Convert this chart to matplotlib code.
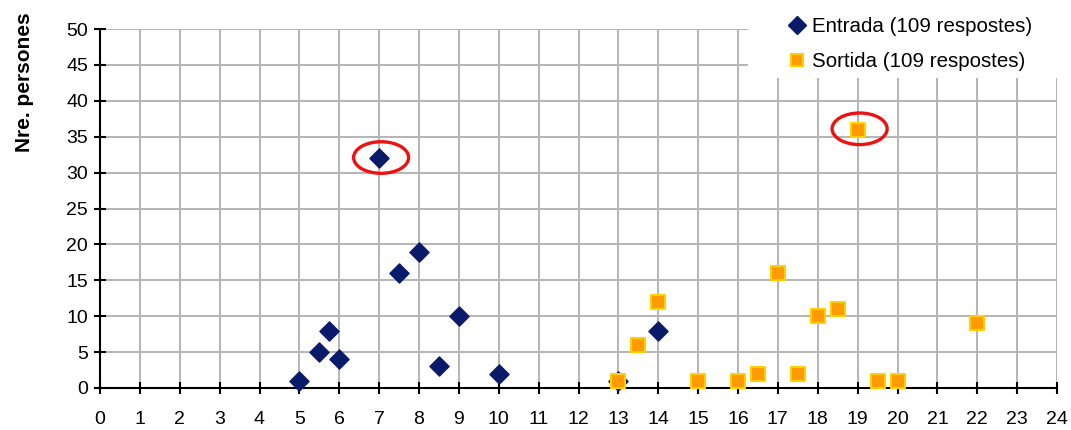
import matplotlib
matplotlib.use("Agg")
import matplotlib.pyplot as plt
from matplotlib.patches import Ellipse, Rectangle
from matplotlib.lines import Line2D

plt.rcParams['font.family'] = ['Liberation Sans', 'DejaVu Sans']

# dades llegides del gràfic
entrada_hora = [5, 5.5, 5.75, 6, 7, 7.5, 8, 8.5, 9, 10, 13, 14]
entrada_n = [1, 5, 8, 4, 32, 16, 19, 3, 10, 2, 1, 8]
sortida_hora = [13, 13.5, 14, 15, 16, 16.5, 17, 17.5, 18, 18.5, 19, 19.5, 20, 22]
sortida_n = [1, 6, 12, 1, 1, 2, 16, 2, 10, 11, 36, 1, 1, 9]

# punts destacats (màxims)
destacats = [(7, 32), (19, 36)]

x_ticks = list(range(0, 25))
y_ticks = list(range(0, 51, 5))

W, H = 1071, 430
fig = plt.figure(figsize=(W / 100, H / 100), dpi=100)
ax = fig.add_axes([100 / W, 42 / H, 957 / W, 359 / H])

ax.set_xlim(0, 24)
ax.set_ylim(0, 50)
ax.set_xticks(x_ticks)
ax.set_yticks(y_ticks)
ax.grid(True, color="#b4b4b4", linewidth=1.4)
ax.set_axisbelow(True)

for s in ["top", "right"]:
    ax.spines[s].set_visible(False)
for s in ["left", "bottom"]:
    ax.spines[s].set_linewidth(1.5)
    ax.spines[s].set_color("black")

ax.tick_params(axis="both", direction="inout", length=9, width=1.5,
               labelsize=14, colors="black")
ax.tick_params(axis="x", pad=12)
ax.tick_params(axis="y", pad=4)

ax.scatter(entrada_hora, entrada_n, marker="D", s=95, color="#0a1a6a",
           edgecolors="#0a1a6a", zorder=3, clip_on=False)
ax.scatter(sortida_hora, sortida_n, marker="s", s=95, color="#ff9a00",
           edgecolors="#ffd000", linewidths=1.5, zorder=4, clip_on=False)

for hx, hy in destacats:
    ax.add_patch(Ellipse((hx + 0.05, hy + 0.1), 1.38, 4.4, fill=False,
                         edgecolor="#ee1111", linewidth=2.4, zorder=5))

ax.set_ylabel("Nre. persones", fontsize=15, fontweight="bold")
ax.yaxis.set_label_coords(-0.069, 0.852)

# fons blanc de la llegenda
fig.patches.append(Rectangle((748 / W, 1 - 78 / H), 1 - 748 / W, 78 / H,
                             transform=fig.transFigure, facecolor="white",
                             edgecolor="none", zorder=2))

handles = [
    Line2D([], [], marker="D", linestyle="none", markersize=9,
           color="#0a1a6a", label="Entrada (109 respostes)"),
    Line2D([], [], marker="s", linestyle="none", markersize=9,
           markerfacecolor="#ff9a00", markeredgecolor="#ffd000",
           markeredgewidth=1.5, label="Sortida (109 respostes)"),
]
leg = fig.legend(handles=handles, loc="center left",
                 bbox_to_anchor=(783 / W, 1 - 44 / H),
                 fontsize=14.8, frameon=False,
                 handlelength=0.8, handletextpad=0.3,
                 labelspacing=0.8, borderpad=0.3, borderaxespad=0)
leg.set_zorder(10)

fig.savefig("out.png", dpi=100)
